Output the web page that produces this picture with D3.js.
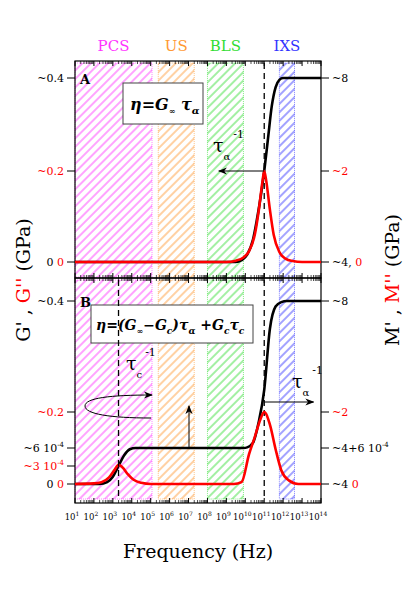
<!DOCTYPE html><html><head><meta charset="utf-8"><script src="https://cdn.jsdelivr.net/npm/d3@7"></script>
<style>body{margin:0;background:#fff} svg text{font-family:"DejaVu Serif","Liberation Serif",serif}</style></head><body><svg id="c" width="415" height="593"></svg>
<script>
// ---- data ----
const decades = d3.range(1, 15);
const bands = [
  {name:"PCS", from:1, to:5.07, color:"#ff33ff"},
  {name:"US", from:5.4, to:7.3, color:"#ff9933"},
  {name:"BLS", from:8.0, to:9.9, color:"#33dd33"},
  {name:"IXS", from:11.8, to:12.6, color:"#3333ff"}];
const aLogF_M1 = [1,9.5,9.8,10.1,10.4,10.6,10.8,11,11.2,11.4,11.6,11.8,12.0,14];
const aM1 = [0,0,0.004,0.016,0.048,0.09,0.14,0.2,0.27,0.34,0.38,0.396,0.4,0.4];
const aLogF_M2 = [1,9.0,9.5,9.9,10.2,10.5,10.7,10.9,11,11.1,11.3,11.5,11.8,12.1,12.5,13,14];
const aM2 = [0,0,0.003,0.01,0.024,0.06,0.11,0.175,0.2,0.18,0.115,0.06,0.022,0.008,0.002,0,0];
const bLogF_M1 = [1,2.3,2.7,3.0,3.3,3.6,3.9,4.2,9.6,9.9,10.1,10.4,10.7,11,11.3,11.6,11.9,12.2,14];
const bM1 = [0,0,0.3e-4,1.2e-4,3e-4,4.8e-4,5.8e-4,6e-4,6e-4,6.2e-4,0.004,0.028,0.14,0.24,0.35,0.39,0.398,0.4,0.4];
const bLogF_M2 = [1,2.0,2.4,2.8,3.1,3.3,3.5,3.8,4.1,4.5,5,9.4,9.8,10.2,10.5,10.8,11,11.3,11.6,11.9,12.3,12.8,14];
const bM2 = [0,0.1e-4,0.3e-4,1.1e-4,2.4e-4,3.2e-4,2.8e-4,1.6e-4,0.7e-4,0.2e-4,0,0,0.3e-4,5e-4,0.061,0.16,0.2,0.13,5.8e-4,2.3e-4,0.6e-4,0,0];
const aLeftTicks = [{v:0.4,t:[["~0.4","#000"]]},{v:0.2,t:[["~0.2","red"]]},{v:0,t:[["0 ","#000"],["0","red"]]}];
const aRightTicks = [{v:0.4,t:[["~8","#000"]]},{v:0.2,t:[["~2","red"]]},{v:0,t:[["~4, ","#000"],["0","red"]]}];
const bLeftTicks = [{v:0.4,t:[["~0.4","#000"]]},{v:0.2,t:[["~0.2","red"]]},{v:6e-4,t:[["~6 10","#000"]],sup:"-4",sc:"#000"},{v:3e-4,t:[["~3 10","red"]],sup:"-4",sc:"red"},{v:0,t:[["0 ","#000"],["0","red"]]}];
const bRightTicks = [{v:0.4,t:[["~8","#000"]]},{v:0.2,t:[["~2","red"]]},{v:6e-4,t:[["~4+6 10","#000"]],sup:"-4",sc:"#000"},{v:0,t:[["~4 ","#000"],["0","red"]]}];

// ---- layout ----
const svg = d3.select("#c");
const L=75,R=321;
const x = d3.scaleLinear().domain([1,14]).range([L,R]);
const panels = [
 {top:61,bot:278,y:d3.scaleLinear().domain([0,0.2,0.4]).range([262,171,78]),lt:aLeftTicks,rt:aRightTicks,
  c1:[aLogF_M1,aM1],c2:[aLogF_M2,aM2],lab:"A"},
 {top:278,bot:503,y:d3.scaleLinear().domain([0,3e-4,6e-4,0.2,0.4]).range([484,466,448,412,301]),lt:bLeftTicks,rt:bRightTicks,
  c1:[bLogF_M1,bM1],c2:[bLogF_M2,bM2],lab:"B"}];

const defs = svg.append("defs");
bands.forEach((b,i)=>{
  const p=defs.append("pattern").attr("id","h"+i).attr("patternUnits","userSpaceOnUse").attr("width",6).attr("height",6)
   .attr("patternTransform","rotate(45)");
  p.append("line").attr("x1",1).attr("y1",0).attr("x2",1).attr("y2",6).attr("stroke",b.color).attr("stroke-width",0.9);
});
defs.append("marker").attr("id","ar").attr("viewBox","0 0 10 10").attr("refX",9).attr("refY",5)
 .attr("markerWidth",9).attr("markerHeight",9).attr("orient","auto-start-reverse")
 .append("path").attr("d","M0,1 L10,5 L0,9 L3,5 Z").attr("fill","#000");

bands.forEach(b=>svg.append("text").attr("x",(x(b.from)+x(b.to))/2).attr("y",51).attr("text-anchor","middle")
  .attr("font-size",15).attr("fill",b.color).text(b.name));

panels.forEach((p,pi)=>{
  const g=svg.append("g");
  bands.forEach((b,i)=>{
    g.append("rect").attr("x",x(b.from)).attr("y",p.top+2).attr("width",x(b.to)-x(b.from)).attr("height",p.bot-p.top-(pi?6:3))
     .attr("fill","url(#h"+i+")").attr("stroke",b.color).attr("stroke-width",0.6).attr("stroke-dasharray","1,1");
  });
  const minors=[];
  decades.forEach(d=>{ if(d<14) for(let k=2;k<10;k++) minors.push(d+Math.log10(k)); });
  [p.top,p.bot].forEach((yy,si)=>{
    const dir= si? -1:1;
    decades.forEach(d=>g.append("line").attr("x1",x(d)).attr("x2",x(d)).attr("y1",yy).attr("y2",yy+dir*5).attr("stroke","#000"));
    minors.forEach(d=>g.append("line").attr("x1",x(d)).attr("x2",x(d)).attr("y1",yy).attr("y2",yy+dir*3).attr("stroke","#000").attr("stroke-width",0.7));
  });
  g.append("rect").attr("x",L).attr("y",p.top).attr("width",R-L).attr("height",p.bot-p.top).attr("fill","none").attr("stroke","#000").attr("stroke-width",1.2);
  const drawTicks=(arr,side)=>arr.forEach(t=>{
    const yy=p.y(t.v);
    g.append("line").attr("x1",side?R:L).attr("x2",side?R+8:L-8).attr("y1",yy).attr("y2",yy).attr("stroke","#000");
    const tx=g.append("text").attr("x",side?R+11:L-11).attr("y",yy+4).attr("font-size",11).attr("text-anchor",side?"start":"end");
    t.t.forEach(s=>tx.append("tspan").attr("fill",s[1]).text(s[0]));
    if(t.sup) tx.append("tspan").attr("fill",t.sc).attr("font-size",7).attr("dy",-5).text(t.sup);
  });
  drawTicks(p.lt,0); drawTicks(p.rt,1);
  g.append("text").attr("x",L+5).attr("y",p.y(0.4)+6).attr("font-size",13).attr("font-weight","bold").text(p.lab);
  g.append("line").attr("x1",x(11)).attr("x2",x(11)).attr("y1",p.top+2).attr("y2",p.bot-(pi?5:1)).attr("stroke","#000").attr("stroke-width",1.3).attr("stroke-dasharray","6,4");
  const line=d3.line().x(d=>x(d[0])).y(d=>p.y(d[1])).curve(d3.curveMonotoneX);
  g.append("path").attr("d",line(d3.zip(p.c1[0],p.c1[1]))).attr("fill","none").attr("stroke","#000").attr("stroke-width",2.6);
  g.append("path").attr("d",line(d3.zip(p.c2[0],p.c2[1]))).attr("fill","none").attr("stroke","red").attr("stroke-width",2.6);
});

const pa=panels[0], pb=panels[1];
svg.append("rect").attr("x",123).attr("y",83).attr("width",80).attr("height",41).attr("fill","#fff").attr("stroke","#444");
const ta=svg.append("text").attr("x",130).attr("y",110).attr("font-size",16).attr("font-weight","bold").attr("font-style","italic");
ta.append("tspan").text("η=G"); ta.append("tspan").attr("font-size",8).attr("dy",4).text("∞");
ta.append("tspan").attr("dy",-4).text(" τ"); ta.append("tspan").attr("font-size",10).attr("dy",4).text("α");
svg.append("line").attr("x1",x(11)).attr("x2",x(8.6)).attr("y1",pa.y(0.2)).attr("y2",pa.y(0.2)).attr("stroke","#000").attr("marker-end","url(#ar)");
const tauA=(xx,yy,sub)=>{const t=svg.append("text").attr("x",xx).attr("y",yy).attr("font-size",19);
  t.append("tspan").text("τ"); t.append("tspan").attr("font-size",10).attr("dy",8).text(sub);
  t.append("tspan").attr("font-size",11).attr("dy",-22).attr("dx",3).text("-1");};
tauA(213,152,"α");
svg.append("rect").attr("x",91).attr("y",305).attr("width",162).attr("height",38).attr("fill","#fff").attr("stroke","#444");
const tb=svg.append("text").attr("x",96).attr("y",330).attr("font-size",14).attr("font-weight","bold").attr("font-style","italic");
tb.append("tspan").text("η=(G"); tb.append("tspan").attr("font-size",8).attr("dy",4).text("∞");
tb.append("tspan").attr("dy",-4).text("−G"); tb.append("tspan").attr("font-size",9).attr("dy",4).text("c");
tb.append("tspan").attr("dy",-4).text(")τ"); tb.append("tspan").attr("font-size",9).attr("dy",4).text("α");
tb.append("tspan").attr("dy",-4).text(" +G"); tb.append("tspan").attr("font-size",9).attr("dy",4).text("c");
tb.append("tspan").attr("dy",-4).text("τ"); tb.append("tspan").attr("font-size",9).attr("dy",4).text("c");
svg.append("line").attr("x1",x(3.3)).attr("x2",x(3.3)).attr("y1",pb.top+2).attr("y2",pb.bot-5).attr("stroke","#000").attr("stroke-width",1.3).attr("stroke-dasharray","6,4");
tauA(126,370,"c"); tauA(292,388,"α");
svg.append("line").attr("x1",x(11)).attr("x2",x(13.6)).attr("y1",402).attr("y2",402).attr("stroke","#000").attr("marker-end","url(#ar)");
svg.append("line").attr("x1",189).attr("x2",189).attr("y1",pb.y(6e-4)).attr("y2",406).attr("stroke","#000").attr("marker-end","url(#ar)");
svg.append("path").attr("d","M151,418 C110,418 85,414 85,406 C85,398 110,395 152,395").attr("fill","none").attr("stroke","#000").attr("marker-end","url(#ar)");
decades.forEach(d=>{const t=svg.append("text").attr("x",x(d)-3).attr("y",520).attr("font-size",8.5).attr("text-anchor","middle");
  t.append("tspan").text("10"); t.append("tspan").attr("font-size",6).attr("dy",-4).text(d);});
svg.append("text").attr("x",198).attr("y",558).attr("text-anchor","middle").attr("font-size",19).text("Frequency (Hz)");
const yl=svg.append("text").attr("transform","translate(30,280) rotate(-90)").attr("text-anchor","middle").attr("font-size",19);
yl.append("tspan").text("G' , "); yl.append("tspan").attr("fill","red").text("G''"); yl.append("tspan").text(" (GPa)");
const yr=svg.append("text").attr("transform","translate(399,280) rotate(-90)").attr("text-anchor","middle").attr("font-size",19);
yr.append("tspan").text("M' , "); yr.append("tspan").attr("fill","red").text("M''"); yr.append("tspan").text(" (GPa)");
</script></body></html>
